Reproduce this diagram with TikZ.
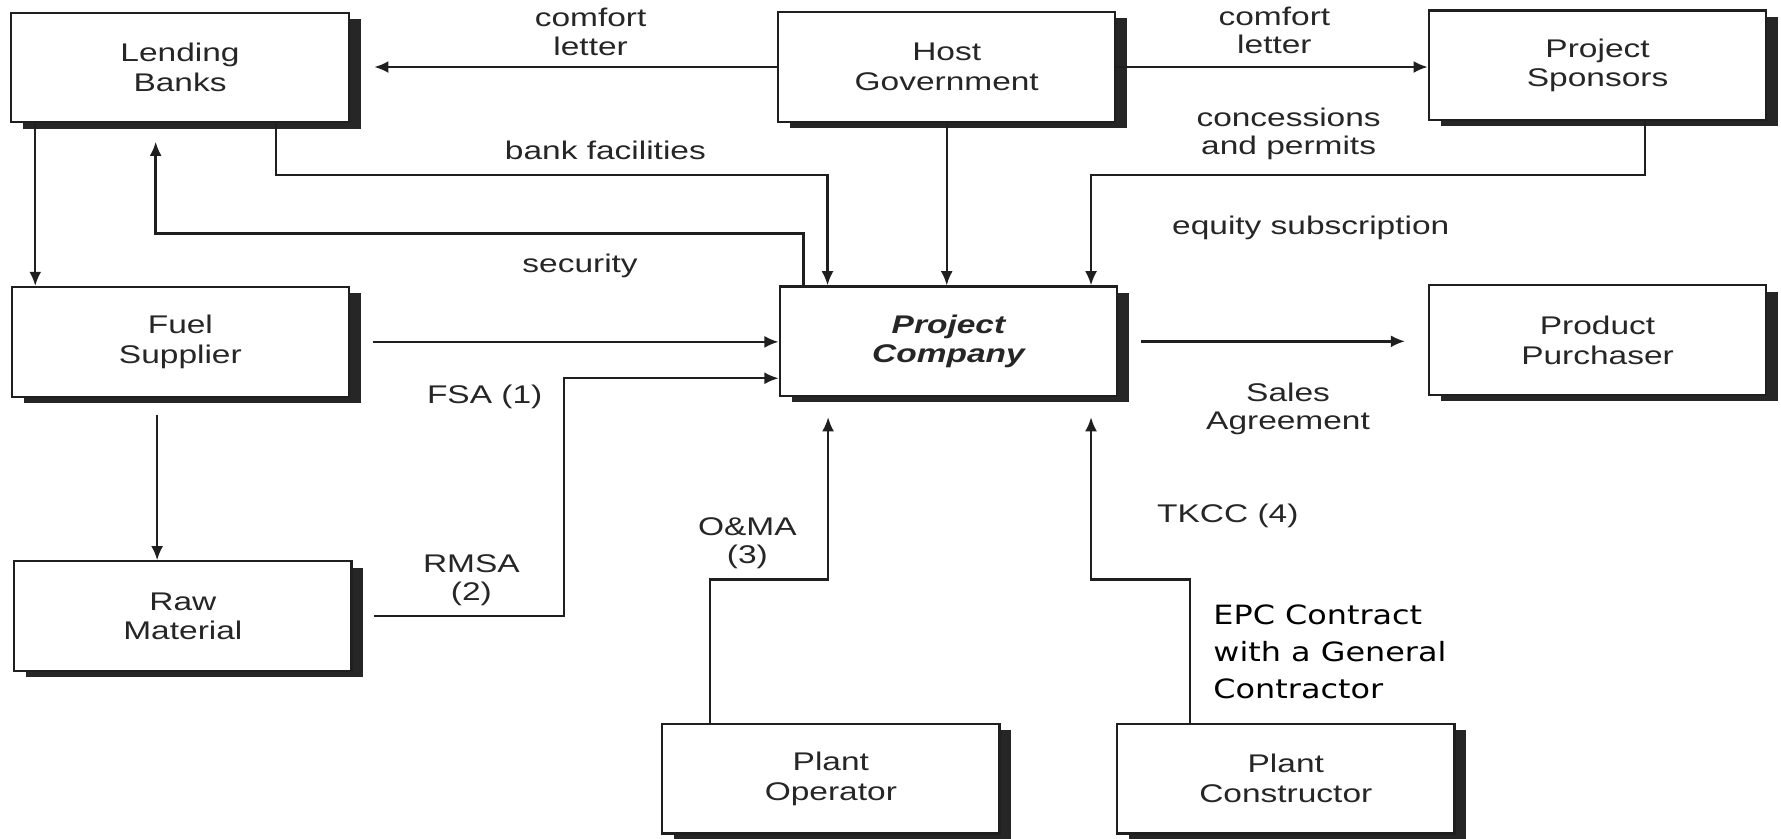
\documentclass[tikz,border=0pt]{standalone}
\usepackage{fontspec}
\setmainfont[FakeStretch=1.31]{Liberation Sans}
\newfontfamily\epcfont[FakeStretch=1.2]{DejaVu Sans}
\usetikzlibrary{shadows,arrows.meta,calc}

\newcommand\boxfont{\fontsize{12.8}{14.8}\selectfont}
\newcommand\diagfont{\fontsize{12.8}{14.2}\selectfont}
\newcommand\notefont{\epcfont\fontsize{13.3}{18.5}\selectfont}

\tikzset{
  ink/.style={draw=black!88},
  party/.style={ink, line width=0.38mm, fill=white, text=black!85,
    minimum width=59.4mm, minimum height=19.3mm, inner sep=0pt,
    align=center, font=\boxfont,
    drop shadow={shadow xshift=2.1mm, shadow yshift=-1.1mm, fill=black!85, opacity=1}},
  link/.style={ink, line width=0.42mm},
  flow/.style={link, -{Latex[length=2.5mm, width=2.1mm]}},
  lbl/.style={align=center, font=\diagfont, text=black!85, inner sep=0pt},
}

\begin{document}
\begin{tikzpicture}[x=0.2mm, y=-0.2mm]
\useasboundingbox (0,0) rectangle (1568,738);

% parties
\node[party] (lb)  at (158.5,59.5)  {Lending\\Banks};
\node[party] (hg)  at (833.5,59)    {Host\\Government};
\node[party] (ps)  at (1406.5,57.5) {Project\\Sponsors};
\node[party] (fs)  at (158.8,301)   {Fuel\\Supplier};
\node[party] (pc)  at (835,300.5)   {\bfseries\itshape Project\\\bfseries\itshape Company};
\node[party] (pp)  at (1406.5,299.5){Product\\Purchaser};
\node[party] (rm)  at (161,542.5)   {Raw\\Material};
\node[party] (po)  at (731.5,685.5) {Plant\\Operator};
\node[party] (pcn) at (1132,685.5)  {Plant\\Constructor};

% comfort letters from the host government
\draw[flow, shorten >=4.3mm] (hg.west) -- (hg.west -| lb.east);
\draw[flow] (hg.east) -- (hg.east -| ps.west);
\draw[flow] (hg.south) -- (hg.south |- pc.north);

% banks
\draw[flow] ($(lb.south west)+(22,0)$) coordinate (l1) -- (l1 |- fs.north);
\draw[flow] ($(lb.south west)+(234,0)$) |- ($(pc.north west)+(43,-97)$) -- ($(pc.north west)+(43,0)$);
\draw[flow, shorten >=3.2mm] ($(pc.north west)+(22,0)$) |- ($(lb.south west)+(128,97)$) -- ($(lb.south west)+(128,0)$);

% sponsors
\draw[flow] ($(ps.south west)+(191,0)$) |- ($(pc.north west)+(275,-97)$) -- ($(pc.north west)+(275,0)$);

% supply side
\draw[flow] ($(fs.east)+(20,0)$) -- (fs.east -| pc.west);
\draw[flow] ($(fs.south west)+(129,15)$) coordinate (f1) -- (f1 |- rm.north);
\draw[flow] ($(rm.east)+(19,0)$) -| ($(pc.west)+(-189,32.5)$) -- ($(pc.west)+(0,32.5)$);

% operation and construction
\draw[flow, shorten >=3.5mm] ($(po.north west)+(43,0)$) |- ($(pc.south west)+(43.5,160.5)$) -- ($(pc.south west)+(43.5,0)$);
\draw[flow, shorten >=3.5mm] ($(pcn.north west)+(65,0)$) |- ($(pc.south west)+(275,160.5)$) -- ($(pc.south west)+(275,0)$);

% offtake
\draw[flow, shorten >=4mm] ($(pc.east)+(20,0)$) -- (pc.east -| pp.west);

% agreement labels
\node[lbl] (t1)  at (520,28)     {comfort\\letter};
\node[lbl] (t2)  at (1122,27)    {comfort\\letter};
\node[lbl] (t3)  at (533,132)    {bank facilities};
\node[lbl] (t4)  at (510.7,234)  {security};
\node[lbl] (t5)  at (1134.5,118) {concessions\\and permits};
\node[lbl] (t6)  at (1154,201)   {equity subscription};
\node[lbl] (t7)  at (426.7,349)  {FSA (1)};
\node[lbl] (t8)  at (415,511)    {RMSA\\(2)};
\node[lbl] (t9)  at (658,478)    {O\&MA\\(3)};
\node[lbl] (t10) at (1081,454)   {TKCC (4)};
\node[lbl] (t11) at (1134,360)   {Sales\\Agreement};
\node[anchor=west, align=left, inner sep=0pt, font=\notefont, text=black] (epc) at (1068,574)
  {EPC Contract\\with a General\\Contractor};
\end{tikzpicture}
\end{document}
